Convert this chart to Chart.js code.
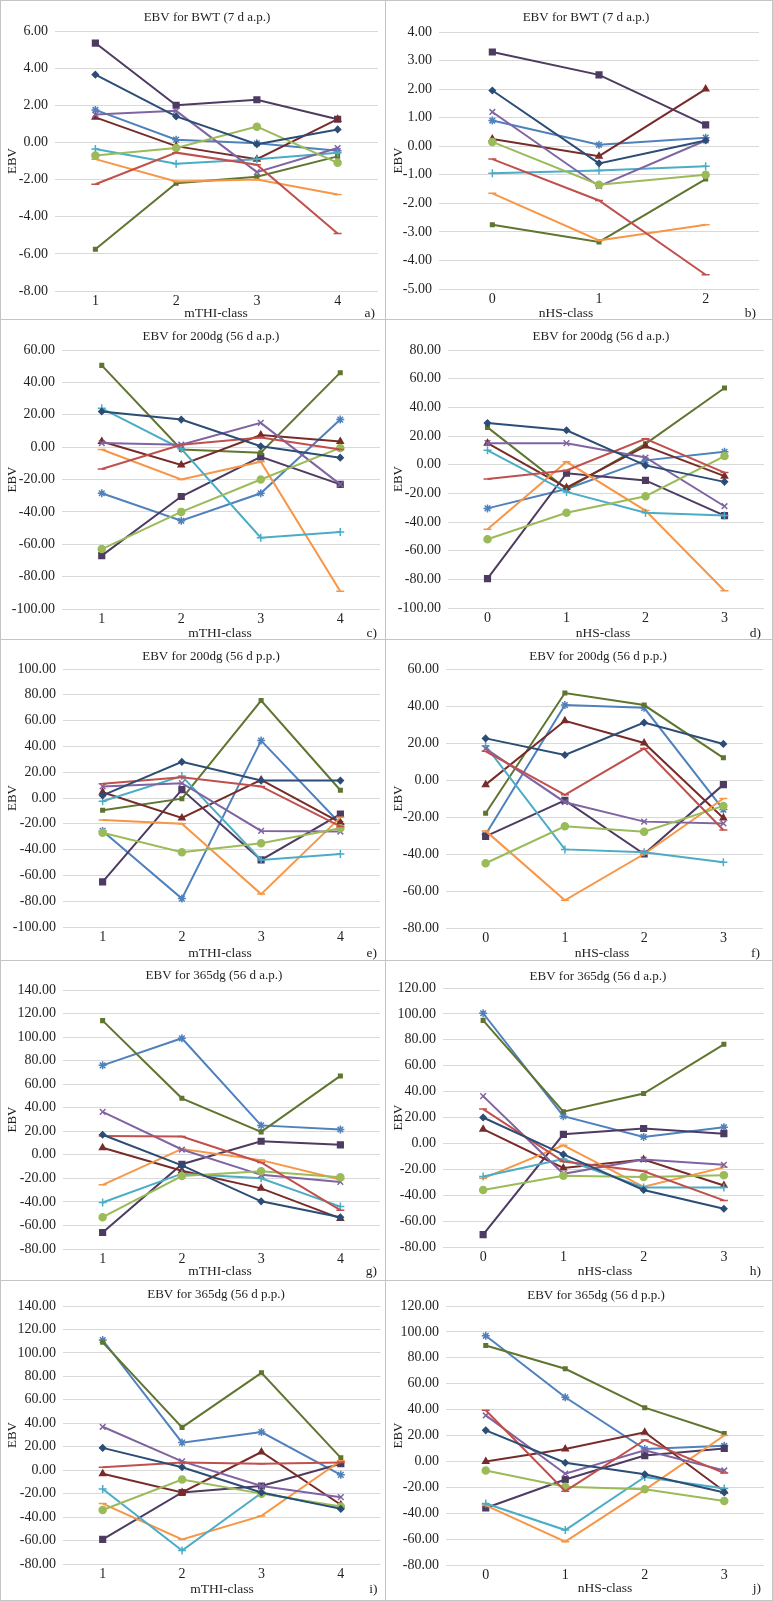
<!DOCTYPE html>
<html>
<head>
<meta charset="utf-8">
<script src="https://cdn.jsdelivr.net/npm/chart.js@4.4.1/dist/chart.umd.min.js"></script>
<style>
  body { margin: 0; background: #fff; }
  #fig { position: relative; width: 773px; height: 1601px; background: #fff; box-sizing: border-box;
         border-left: 1px solid #c4c4c4; border-top: 1px solid #c4c4c4; }
  .panel { position: absolute; }
  .panel canvas { position: absolute; left: 0; top: 0; }
  .frame { position: absolute; inset: 0; border-right: 1px solid #c4c4c4; border-bottom: 1px solid #c4c4c4; pointer-events: none; }
</style>
</head>
<body>
<div id="fig"></div>
<script>
// categories
const mthiClasses = ['1', '2', '3', '4'];
const nhsClasses3 = ['0', '1', '2'];
const nhsClasses4 = ['0', '1', '2', '3'];

// series (no legend in the figure)
const seriesNames = ['Series 1', 'Series 2', 'Series 3', 'Series 4', 'Series 5',
  'Series 6', 'Series 7', 'Series 8', 'Series 9', 'Series 10'];

// EBV values, one row per series, in seriesNames order
const bwtMthi = [
  [3.65, 1.4, -0.1, 0.7],
  [-2.25, -0.55, -1.2, -4.9],
  [-0.7, -0.3, 0.85, -1.1],
  [1.5, 1.7, -1.6, -0.3],
  [-0.35, -1.15, -0.9, -0.55],
  [-0.9, -2.1, -2.0, -2.8],
  [1.35, -0.2, -0.9, 1.25],
  [-5.75, -2.2, -1.85, -0.75],
  [5.35, 2.0, 2.3, 1.25],
  [1.75, 0.15, -0.05, -0.45]
];
const bwtNhs = [
  [1.95, -0.6, 0.2],
  [-0.45, -1.9, -4.5],
  [0.15, -1.35, -1.0],
  [1.2, -1.4, 0.2],
  [-0.95, -0.85, -0.7],
  [-1.65, -3.3, -2.75],
  [0.25, -0.35, 2.0],
  [-2.75, -3.35, -1.15],
  [3.3, 2.5, 0.75],
  [0.9, 0.05, 0.3]
];
const dg200apMthi = [
  [22, 17, 0.5, -6.5],
  [-13.5, 1.5, 6, -1.5],
  [-63, -40, -20, -0.5],
  [2.5, 1.5, 15, -23],
  [24, -1, -56, -52.5],
  [-1.5, -20, -9, -89],
  [3.5, -11, 7.5, 3.5],
  [50.5, -1.5, -3.5, 46],
  [-67, -30.5, -6, -23],
  [-28.5, -45.5, -28.5, 17]
];
const dg200apNhs = [
  [29, 24, -0.5, -12],
  [-10, -4, 18, -5.5],
  [-52, -33.5, -22, 6],
  [15, 15, 5, -29],
  [10, -19, -33.5, -35.5],
  [-45, 2, -32, -88],
  [15, -16, 13, -8],
  [26, -17, 14.5, 53.5],
  [-79.5, -6, -11, -35.5],
  [-30.5, -17, 3, 9]
];
const dg200ppMthi = [
  [2, 28, 13.5, 13.5],
  [11, 16, 9, -22],
  [-27, -42, -35, -23.5],
  [9, 11.5, -25.5, -26],
  [-2.5, 17, -48, -43.5],
  [-17, -20, -74.5, -15],
  [4.5, -15.5, 14, -19],
  [-9.5, -0.5, 75.5, 6],
  [-65, 6.5, -48, -12.5],
  [-25.5, -78, 44.5, -20]
];
const dg200ppNhs = [
  [22.5, 13.5, 31, 19.5],
  [15.5, -8, 17, -27],
  [-45, -25, -28, -14],
  [17, -12, -22.5, -23.5],
  [18.5, -37.5, -39, -44.5],
  [-27.5, -65, -40, -10],
  [-2.5, 32, 20, -20.5],
  [-18, 47, 40.5, 12],
  [-30.5, -11, -40, -2.5],
  [-29.5, 40.5, 39, -16]
];
const dg365apMthi = [
  [17, -9, -39.5, -53],
  [16, 15.5, -6.5, -47],
  [-53, -18, -14, -19],
  [36.5, 4.5, -17, -23],
  [-40.5, -16, -20, -44],
  [-25.5, 5, -4.5, -21],
  [6, -13.5, -28.5, -54],
  [114, 48, 19.5, 67],
  [-66, -8, 11.5, 8.5],
  [76, 99, 25, 21.5]
];
const dg365apNhs = [
  [20, -8.5, -36, -50.5],
  [26.5, -14, -21.5, -44],
  [-36, -25, -26, -24.5],
  [36.5, -23.5, -12.5, -16.5],
  [-25.5, -12, -34, -34],
  [-27, -1.5, -33.5, -18.5],
  [11, -19, -12.5, -32.5],
  [95, 24.5, 38.5, 76.5],
  [-70.5, 7, 11.5, 7.5],
  [100.5, 21, 5, 12.5]
];
const dg365ppMthi = [
  [19, 2.5, -19, -33],
  [2.5, 6.5, 5.5, 6.5],
  [-34, -8, -20, -31],
  [37, 7.5, -13.5, -23],
  [-16, -68.5, -19.5, -32],
  [-28.5, -59, -39, 8],
  [-3, -19, 15.5, -29.5],
  [109, 36.5, 83, 10.5],
  [-59, -19, -13.5, 5.5],
  [111, 23.5, 32.5, -4]
];
const dg365ppNhs = [
  [24, -1, -10, -24],
  [39.5, -23, 16.5, -9],
  [-7, -19.5, -21.5, -30.5],
  [35.5, -9.5, 8.5, -7],
  [-32.5, -53, -12, -21],
  [-34, -62, -22, 20],
  [0, 9.5, 22.5, -23],
  [89.5, 71.5, 41.5, 21.5],
  [-36, -14, 4.5, 10],
  [97, 49.5, 9.5, 12]
];

// series styling
const seriesStyle = [
  { color: '#2C4D75', point: 'rectRot', r: 3 },
  { color: '#C0504D', point: 'line', r: 4 },
  { color: '#9BBB59', point: 'circle', r: 3.5 },
  { color: '#8064A2', point: 'crossRot', r: 4 },
  { color: '#4BACC6', point: 'cross', r: 4 },
  { color: '#F79646', point: 'line', r: 4 },
  { color: '#772C2A', point: 'triangle', r: 3.5 },
  { color: '#5F7530', point: 'rect', r: 2.5 },
  { color: '#4D3B62', point: 'rect', r: 4 },
  { color: '#4F81BD', point: 'star', r: 4 }
];

const panels = [
  { title: 'EBV for BWT (7 d a.p.)', xTitle: 'mTHI-class', letter: 'a)', labels: mthiClasses, values: bwtMthi,
    min: -8, max: 6, step: 2, box: [55, 31, 378, 291], tx: 207, ty: 18, xx: 216, xy: 313 },
  { title: 'EBV for BWT (7 d a.p.)', xTitle: 'nHS-class', letter: 'b)', labels: nhsClasses3, values: bwtNhs,
    min: -5, max: 4, step: 1, box: [53, 32, 373, 289], tx: 200, ty: 18, xx: 180, xy: 313 },
  { title: 'EBV for 200dg (56 d a.p.)', xTitle: 'mTHI-class', letter: 'c)', labels: mthiClasses, values: dg200apMthi,
    min: -100, max: 60, step: 20, box: [62, 30, 380, 289], tx: 211, ty: 17, xx: 220, xy: 313 },
  { title: 'EBV for 200dg (56 d a.p.)', xTitle: 'nHS-class', letter: 'd)', labels: nhsClasses4, values: dg200apNhs,
    min: -100, max: 80, step: 20, box: [62, 30, 378, 288], tx: 215, ty: 17, xx: 217, xy: 313 },
  { title: 'EBV for 200dg (56 d p.p.)', xTitle: 'mTHI-class', letter: 'e)', labels: mthiClasses, values: dg200ppMthi,
    min: -100, max: 100, step: 20, box: [63, 29, 380, 287], tx: 211, ty: 17, xx: 220, xy: 313 },
  { title: 'EBV for 200dg (56 d p.p.)', xTitle: 'nHS-class', letter: 'f)', labels: nhsClasses4, values: dg200ppNhs,
    min: -80, max: 60, step: 20, box: [60, 29, 377, 288], tx: 212, ty: 17, xx: 216, xy: 313 },
  { title: 'EBV for 365dg (56 d a.p.)', xTitle: 'mTHI-class', letter: 'g)', labels: mthiClasses, values: dg365apMthi,
    min: -80, max: 140, step: 20, box: [63, 29, 380, 288], tx: 214, ty: 15, xx: 220, xy: 310 },
  { title: 'EBV for 365dg (56 d a.p.)', xTitle: 'nHS-class', letter: 'h)', labels: nhsClasses4, values: dg365apNhs,
    min: -80, max: 120, step: 20, box: [57, 27, 378, 286], tx: 212, ty: 16, xx: 219, xy: 310 },
  { title: 'EBV for 365dg (56 d p.p.)', xTitle: 'mTHI-class', letter: 'i)', labels: mthiClasses, values: dg365ppMthi,
    min: -80, max: 140, step: 20, box: [63, 25, 382, 283], tx: 216, ty: 14, xx: 222, xy: 308 },
  { title: 'EBV for 365dg (56 d p.p.)', xTitle: 'nHS-class', letter: 'j)', labels: nhsClasses4, values: dg365ppNhs,
    min: -80, max: 120, step: 20, box: [60, 25, 378, 284], tx: 210, ty: 15, xx: 219, xy: 307 }
];

const rowTops = [0, 320, 640, 961, 1281, 1601];
const colLefts = [0, 386, 773];
const FONT = '"Liberation Serif", "Times New Roman", serif';
const TEXT = '#1f1f1f';

const panelText = {
  id: 'panelText',
  afterDraw(chart, args, o) {
    const ctx = chart.ctx;
    const ca = chart.chartArea;
    ctx.save();
    ctx.fillStyle = TEXT;
    ctx.textBaseline = 'middle';
    ctx.textAlign = 'center';
    ctx.font = '13px ' + FONT;
    ctx.fillText(o.title, o.tx, o.ty);
    ctx.font = '13.5px ' + FONT;
    ctx.fillText(o.xTitle, o.xx, o.xy);
    ctx.textAlign = 'right';
    ctx.fillText(o.letter, ca.right - 3, o.xy);
    ctx.translate(13, (ca.top + ca.bottom) / 2);
    ctx.rotate(-Math.PI / 2);
    ctx.textAlign = 'center';
    ctx.font = '13px ' + FONT;
    ctx.fillText('EBV', 0, 0);
    ctx.restore();
  }
};

Chart.defaults.font.family = FONT;
Chart.defaults.color = TEXT;

const fig = document.getElementById('fig');
panels.forEach((p, k) => {
  const row = Math.floor(k / 2), col = k % 2;
  const W = colLefts[col + 1] - colLefts[col];
  const H = rowTops[row + 1] - rowTops[row];
  const div = document.createElement('div');
  div.className = 'panel';
  div.style.left = (colLefts[col] - 1) + 'px';
  div.style.top = (rowTops[row] - 1) + 'px';
  div.style.width = W + 'px';
  div.style.height = H + 'px';
  const canvas = document.createElement('canvas');
  canvas.width = W;
  canvas.height = H;
  div.appendChild(canvas);
  const frame = document.createElement('div');
  frame.className = 'frame';
  div.appendChild(frame);
  fig.appendChild(div);

  const [l, t, r, b] = p.box;
  new Chart(canvas.getContext('2d'), {
    type: 'line',
    data: {
      labels: p.labels,
      datasets: p.values.map((vals, i) => ({
        label: seriesNames[i],
        data: vals,
        borderColor: seriesStyle[i].color,
        backgroundColor: seriesStyle[i].color,
        pointStyle: seriesStyle[i].point,
        pointRadius: seriesStyle[i].r,
        pointBorderWidth: 1.5,
        borderWidth: 2,
        tension: 0,
        fill: false
      }))
    },
    options: {
      responsive: false,
      animation: false,
      devicePixelRatio: 1,
      layout: { padding: { left: 0, right: W - r, top: t, bottom: 0 } },
      plugins: {
        legend: { display: false },
        tooltip: { enabled: false },
        panelText: { title: p.title, xTitle: p.xTitle, letter: p.letter, tx: p.tx, ty: p.ty, xx: p.xx, xy: p.xy }
      },
      scales: {
        x: {
          offset: true,
          grid: { display: false, drawTicks: false },
          border: { display: false },
          ticks: { font: { size: 14 }, padding: 2 },
          afterFit: s => { s.height = H - b; }
        },
        y: {
          min: p.min,
          max: p.max,
          grid: { color: '#d9d9d9', drawTicks: false },
          border: { display: false },
          ticks: { stepSize: p.step, font: { size: 14 }, padding: 7, callback: v => v.toFixed(2) },
          afterFit: s => { s.width = l; }
        }
      }
    },
    plugins: [panelText]
  });
});
</script>
</body>
</html>
